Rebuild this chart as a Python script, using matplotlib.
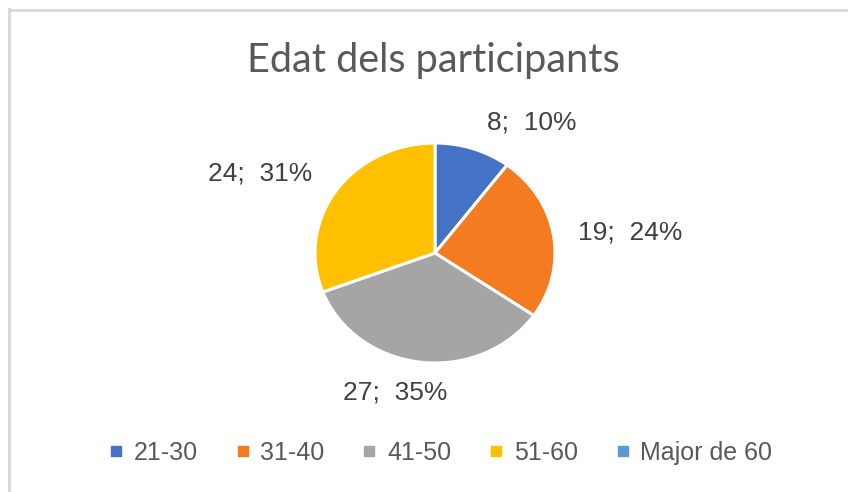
import matplotlib
matplotlib.use("Agg")
import matplotlib.pyplot as plt
from matplotlib.lines import Line2D

# dades
categories = ["21-30", "31-40", "41-50", "51-60", "Major de 60"]
participants = [8, 19, 27, 24, 0]
colors = ["#4472C4", "#F47B20", "#A5A5A5", "#FFC000", "#5B9BD5"]
title = "Edat dels participants"

# posicions de les etiquetes (en unitats del radi)
label_pos = [(0.81, 1.19), (1.625, 0.19), (-0.333, -1.27), (-1.458, 0.727)]

W, H = 848, 492
fig = plt.figure(figsize=(W / 100, H / 100), dpi=100)
fig.patch.set_facecolor("white")

# marc gris (només es veuen la vora esquerra i la de dalt)
fig.add_artist(Line2D([8.5 / W, 8.5 / W], [0, 1 - 9 / H], transform=fig.transFigure,
                      color="#D9D9D9", lw=2.2))
fig.add_artist(Line2D([8.5 / W, 1], [1 - 10 / H, 1 - 10 / H], transform=fig.transFigure,
                      color="#D9D9D9", lw=2.2))

# eix del pastís (una mica més ample que alt, com a l'original)
cx, cy, rx, ry = 435, 253, 120, 110
ax = fig.add_axes([(cx - rx) / W, 1 - (cy + ry) / H, 2 * rx / W, 2 * ry / H])

vals = [v for v in participants if v > 0]
cols = [c for v, c in zip(participants, colors) if v > 0]
wedges, _ = ax.pie(vals, colors=cols, startangle=90, counterclock=False,
                   wedgeprops=dict(edgecolor="white", linewidth=2.2))
ax.set_aspect("auto")
ax.set_xlim(-1, 1)
ax.set_ylim(-1, 1)
ax.axis("off")

total = sum(participants)
for v, (x, y) in zip(vals, label_pos):
    pct = round(100 * v / total)
    ax.text(x, y, f"{v};  {pct}%", ha="center", va="center", fontsize=19,
            family="Liberation Sans", color="#404040")

fig.text(433 / W, 1 - 72 / H, title, ha="center", va="baseline", fontsize=28.5,
         family="Lato", color="#595959")

handles = [Line2D([], [], marker="s", linestyle="none", markersize=7,
                  markerfacecolor=c, markeredgecolor=c) for c in colors]
fig.legend(handles, categories, loc="center", bbox_to_anchor=(441 / W, 1 - 453 / H),
           ncol=5, frameon=False, handlelength=0.5, handletextpad=0.45,
           columnspacing=1.55, prop={"family": "Liberation Sans", "size": 18},
           labelcolor="#595959")

plt.savefig("out.png", dpi=100)
